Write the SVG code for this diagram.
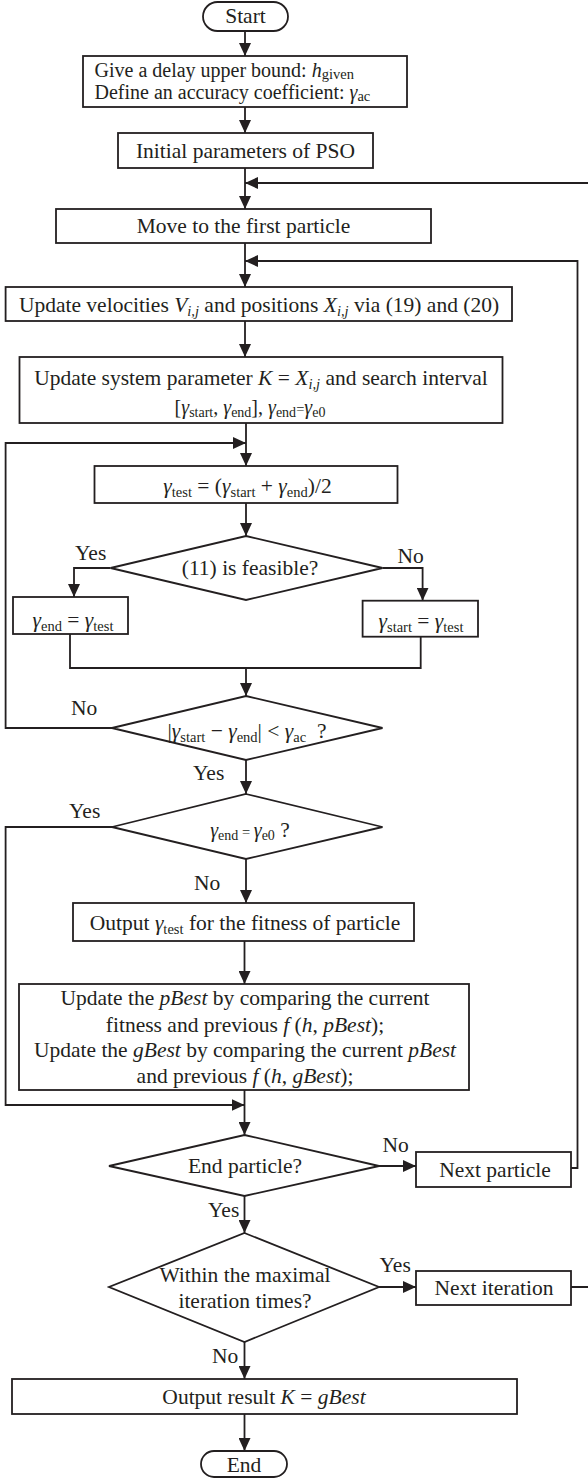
<svg xmlns="http://www.w3.org/2000/svg" width="588" height="1478" viewBox="0 0 588 1478">
<defs>
<marker id="ah" markerUnits="userSpaceOnUse" markerWidth="14" markerHeight="12" refX="13" refY="6" orient="auto"><path d="M0,0 L13,6 L0,12 z" fill="#231f20"/></marker>
<style>
.n rect, .n polygon {fill:#fff; stroke:#231f20; stroke-width:1.8}
text {font-family:"Liberation Serif","Times New Roman",serif; font-size:21.5px; fill:#231f20}
.c {text-anchor:middle}
.i {font-style:italic}
.s {font-size:14.5px}
.m {font-size:20px}
.s2 {font-size:14px}
.t {font-size:20px}
.e path {fill:none; stroke:#231f20; stroke-width:1.8}
.e .a {marker-end:url(#ah)}
</style>
</defs>
<rect width="588" height="1478" fill="#fff"/>

<g id="connectors" class="e">
<path class="a" d="M245,31 V56"/>
<path class="a" d="M245,107 V133"/>
<path class="a" d="M245,168 V209"/>
<path class="a" d="M571,1287 H592 V183 H245"/>
<path class="a" d="M245,243 V287"/>
<path class="a" d="M571,1168 H577.5 V261 H245"/>
<path class="a" d="M245,321 V357"/>
<path class="a" d="M246,423 V466"/>
<path class="a" d="M112,728 H5.6 V443 H246"/>
<path class="a" d="M246,503 V536"/>
<path class="a" d="M110.6,568 H74 V597"/>
<path class="a" d="M382.5,568 H422.6 V600.7"/>
<path d="M70,634 V668 H420.7 V636.7"/>
<path class="a" d="M246,668 V696"/>
<path class="a" d="M246,760 V794"/>
<path class="a" d="M112,827 H5.6 V1105 H244.5"/>
<path class="a" d="M246,859 V903"/>
<path class="a" d="M244.5,941 V984"/>
<path class="a" d="M244.5,1090 V1135"/>
<path class="a" d="M379,1166 H416"/>
<path class="a" d="M244.5,1196 V1233"/>
<path class="a" d="M379,1287 H416"/>
<path class="a" d="M244.5,1342 V1379"/>
<path class="a" d="M244.5,1414 V1451"/>
</g>

<g id="start" class="n"><rect x="203" y="2" width="85" height="29" rx="14.5"/><text class="c" x="245.5" y="23">Start</text></g>

<g id="init-bounds" class="n"><rect x="83" y="56" width="324" height="51"/>
<text class="t" x="94.5" y="76.5">Give a delay upper bound: <tspan class="i">h</tspan><tspan class="s" dy="2">given</tspan></text>
<text class="t" x="94.5" y="99">Define an accuracy coefficient: <tspan class="i">γ</tspan><tspan class="s" dy="2">ac</tspan></text></g>

<g id="init-pso" class="n"><rect x="118" y="133" width="255" height="35"/><text class="c" x="245.5" y="158">Initial parameters of PSO</text></g>

<g id="first-particle" class="n"><rect x="56" y="209" width="375" height="34"/><text class="c" x="243.5" y="233">Move to the first particle</text></g>

<g id="update-vel" class="n"><rect x="5.6" y="287" width="506.4" height="34"/>
<text class="c" x="259" y="312">Update velocities <tspan class="i">V</tspan><tspan class="s i" dy="4">i,j</tspan><tspan dy="-4"> and positions </tspan><tspan class="i">X</tspan><tspan class="s i" dy="4">i,j</tspan><tspan dy="-4"> via (19) and (20)</tspan></text></g>

<g id="update-sys" class="n"><rect x="19.5" y="357" width="483" height="66"/>
<text class="c" x="261" y="385">Update system parameter <tspan class="i">K</tspan> = <tspan class="i">X</tspan><tspan class="s i" dy="4">i,j</tspan><tspan dy="-4"> and search interval</tspan></text>
<text class="c m" x="250" y="414">[<tspan class="i">γ</tspan><tspan class="s2" dy="3">start</tspan><tspan dy="-3">, </tspan><tspan class="i">γ</tspan><tspan class="s2" dy="3">end</tspan><tspan dy="-3">], </tspan><tspan class="i">γ</tspan><tspan class="s2" dy="3">end</tspan><tspan dy="-3" class="s">=</tspan><tspan class="i">γ</tspan><tspan class="s2" dy="3">e0</tspan></text></g>

<g id="gamma-test" class="n"><rect x="94.5" y="466" width="303" height="37"/>
<text class="c" x="247.5" y="493"><tspan class="i">γ</tspan><tspan class="s" dy="4">test</tspan><tspan dy="-4"> = (</tspan><tspan class="i">γ</tspan><tspan class="s" dy="4">start</tspan><tspan dy="-4"> + </tspan><tspan class="i">γ</tspan><tspan class="s" dy="4">end</tspan><tspan dy="-4">)/2</tspan></text></g>

<g id="feasible" class="n"><polygon points="246,536 382.5,568 246,600 110.6,568"/><text class="c" x="250" y="575">(11) is feasible?</text></g>

<g id="set-end" class="n"><rect x="13" y="597" width="115" height="37"/>
<text class="c" x="73" y="627"><tspan class="i">γ</tspan><tspan class="s" dy="4">end</tspan><tspan dy="-4"> = </tspan><tspan class="i">γ</tspan><tspan class="s" dy="4">test</tspan></text></g>

<g id="set-start" class="n"><rect x="362.6" y="600.7" width="115.4" height="36"/>
<text class="c" x="421" y="628"><tspan class="i">γ</tspan><tspan class="s" dy="4">start</tspan><tspan dy="-4"> = </tspan><tspan class="i">γ</tspan><tspan class="s" dy="4">test</tspan></text></g>

<g id="accuracy" class="n"><polygon points="246,696 382.5,728 246,760 112,728"/>
<text class="c" x="247" y="738">|<tspan class="i">γ</tspan><tspan class="s" dy="4">start</tspan><tspan dy="-4"> − </tspan><tspan class="i">γ</tspan><tspan class="s" dy="4">end</tspan><tspan dy="-4">| &lt; </tspan><tspan class="i">γ</tspan><tspan class="s" dy="4">ac</tspan><tspan dy="-4">&#160;&#160;?</tspan></text></g>

<g id="end-check" class="n"><polygon points="246,794 382.5,827 246,859 112,827"/>
<text class="c" x="250" y="837"><tspan class="i m">γ</tspan><tspan class="s2" dy="3">end</tspan><tspan dy="-3" class="s"> = </tspan><tspan class="i m">γ</tspan><tspan class="s2" dy="3">e0</tspan><tspan dy="-3"> ?</tspan></text></g>

<g id="output-fitness" class="n"><rect x="73" y="903" width="341" height="38"/>
<text class="c" x="245" y="930">Output <tspan class="i">γ</tspan><tspan class="s" dy="4">test</tspan><tspan dy="-4"> for the fitness of particle</tspan></text></g>

<g id="update-best" class="n"><rect x="19" y="984" width="450" height="106"/>
<text class="c" x="245" y="1005">Update the <tspan class="i">pBest</tspan> by comparing the current</text>
<text class="c" x="245" y="1031.5">fitness and previous <tspan class="i">f</tspan> (<tspan class="i">h</tspan>, <tspan class="i">pBest</tspan>);</text>
<text class="c" x="245" y="1057">Update the <tspan class="i">gBest</tspan> by comparing the current <tspan class="i">pBest</tspan></text>
<text class="c" x="245" y="1083">and previous <tspan class="i">f</tspan> (<tspan class="i">h</tspan>, <tspan class="i">gBest</tspan>);</text></g>

<g id="end-particle" class="n"><polygon points="244.5,1135 379,1166 244.5,1196 109,1166"/><text class="c" x="245" y="1173">End particle?</text></g>

<g id="next-particle" class="n"><rect x="416" y="1152" width="155" height="35"/><text class="c" x="495" y="1177">Next particle</text></g>

<g id="max-iter" class="n"><polygon points="244.5,1233 379,1287 244.5,1342 109,1287"/>
<text class="c" x="245" y="1282">Within the maximal</text><text class="c" x="245" y="1308">iteration times?</text></g>

<g id="next-iteration" class="n"><rect x="416" y="1271" width="155" height="34"/><text class="c" x="494" y="1295">Next iteration</text></g>

<g id="output-result" class="n"><rect x="12" y="1379" width="505" height="35"/>
<text class="c" x="264" y="1404">Output result <tspan class="i">K</tspan> = <tspan class="i">gBest</tspan></text></g>

<g id="end" class="n"><rect x="201" y="1451" width="86" height="26" rx="13"/><text class="c" x="244" y="1472">End</text></g>

<g id="labels">
<text x="75" y="560">Yes</text>
<text x="397.5" y="563">No</text>
<text x="71" y="715">No</text>
<text x="193" y="780">Yes</text>
<text x="69" y="818">Yes</text>
<text x="194" y="890">No</text>
<text x="382.5" y="1152">No</text>
<text x="208" y="1217">Yes</text>
<text x="379.5" y="1272">Yes</text>
<text x="212" y="1363">No</text>
</g>
</svg>
